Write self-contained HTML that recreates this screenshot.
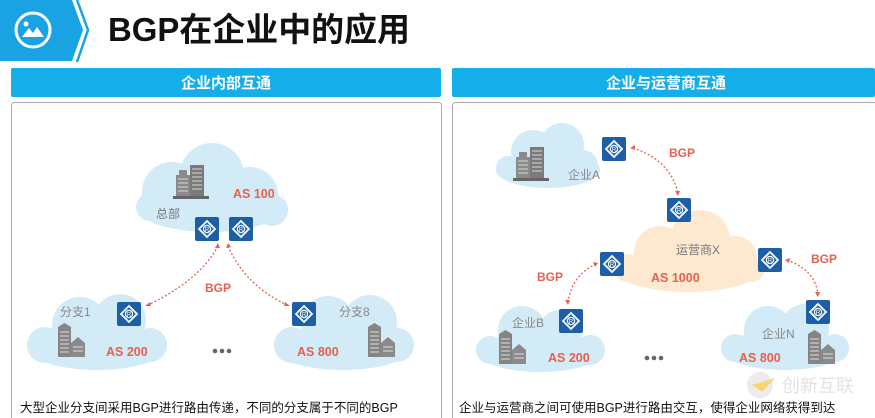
<!DOCTYPE html>
<html><head><meta charset="utf-8"><style>
body{margin:0;background:#fff;}
svg{display:block;font-family:"Liberation Sans","Noto Sans CJK SC",sans-serif;}
</style></head><body>
<svg width="875" height="418" viewBox="0 0 875 418" xmlns="http://www.w3.org/2000/svg">
<defs>
<g id="rt"><rect x="0" y="0" width="24" height="24" rx="2" fill="#1d5fa6"/><path d="M12 4 L20 12 L12 20 L4 12Z" fill="none" stroke="#fff" stroke-width="1.8"/><circle cx="12" cy="12" r="3.6" fill="none" stroke="#fff" stroke-width="1.2"/><text x="12" y="14.5" font-size="6" fill="#fff" text-anchor="middle">R</text></g>
<g id="bd1"><rect x="0" y="10" width="14" height="22" fill="#8a8a8a"/><rect x="3" y="5" width="8" height="6" fill="#8a8a8a"/><rect x="14" y="0" width="14" height="32" fill="#7a7a7a"/><rect x="-3" y="31" width="36" height="3" fill="#666"/><path d="M2 14h10M2 18h10M2 22h10M2 26h10M16 4h10M16 8h10M16 12h10M16 16h10M16 20h10M16 24h10" stroke="#d8d8d8" stroke-width="1"/></g>
<g id="bd2"><rect x="0" y="4" width="13" height="30" fill="#858585"/><path d="M0 4 L6.5 0 L13 4Z" fill="#858585"/><rect x="13" y="20" width="14" height="14" fill="#8a8a8a"/><path d="M13 20 L20 14 L27 20Z" fill="#8a8a8a"/><path d="M2 9h9M2 13h9M2 17h9M2 21h9M2 25h9M2 29h9M15 24h10M15 28h10" stroke="#ddd" stroke-width="1"/></g>
</defs>
<!-- header -->
<path d="M0 0 H72 L83 30 L72 61 H0Z" fill="#1aa3e3"/>
<path d="M77 0 L88 30 L77 62" fill="none" stroke="#1aa3e3" stroke-width="2.5"/>
<circle cx="33" cy="30" r="17" fill="none" stroke="#fff" stroke-width="3"/>
<path d="M22 37 L29 28 L33 33 L37 27 L44 37Z" fill="#fff"/><circle cx="26" cy="24" r="2.5" fill="#fff"/>
<text x="108" y="41" font-size="33" font-weight="bold" fill="#111" textLength="302" lengthAdjust="spacingAndGlyphs">BGP在企业中的应用</text>
<!-- bars -->
<rect x="11" y="68" width="430" height="29" rx="2" fill="#14aeea"/>
<rect x="452" y="68" width="423" height="29" rx="2" fill="#14aeea"/>
<text x="226" y="88" font-size="15" font-weight="bold" fill="#fff" text-anchor="middle">企业内部互通</text>
<text x="666" y="88" font-size="15" font-weight="bold" fill="#fff" text-anchor="middle">企业与运营商互通</text>
<rect x="11.5" y="102.5" width="430" height="330" rx="3" fill="none" stroke="#aaa"/>
<rect x="452.5" y="102.5" width="430" height="330" rx="3" fill="none" stroke="#aaa"/>
<!-- LEFT -->
<g fill="#d3eaf7">
<ellipse cx="210" cy="210" rx="70" ry="22"/><circle cx="172" cy="192" r="30"/><circle cx="212" cy="175" r="32"/><circle cx="250" cy="195" r="28"/><circle cx="150" cy="207" r="14"/><circle cx="272" cy="210" r="16"/>
<ellipse cx="97" cy="348" rx="68" ry="22"/><circle cx="80" cy="325" r="28"/><circle cx="120" cy="320" r="26"/><circle cx="45" cy="345" r="18"/><circle cx="150" cy="345" r="17"/>
<ellipse cx="343" cy="348" rx="68" ry="22"/><circle cx="328" cy="323" r="27"/><circle cx="370" cy="322" r="27"/><circle cx="292" cy="345" r="18"/><circle cx="397" cy="345" r="17"/>
</g>
<use href="#bd1" x="176" y="165"/>
<text x="233" y="198" font-size="12.5" font-weight="bold" fill="#e8604f">AS 100</text>
<text x="156" y="218" font-size="12" fill="#777">总部</text>
<use href="#rt" x="195" y="217"/><use href="#rt" x="229" y="217"/>
<path d="M218 246 Q200 280 148 305" fill="none" stroke="#e8604f" stroke-width="1.3" stroke-dasharray="2 2"/>
<path d="M228 246 Q245 285 287 305" fill="none" stroke="#e8604f" stroke-width="1.3" stroke-dasharray="2 2"/>
<path d="M218 243 l-3 5 l5 0Z M228 243 l-2 5 l5 -1Z M145 306 l5 -4 l1 4Z M290 306 l-5 -4 l-1 4Z" fill="#e8604f"/>
<text x="218" y="292" font-size="12" font-weight="bold" fill="#e8604f" text-anchor="middle">BGP</text>
<text x="60" y="316" font-size="12" fill="#888">分支1</text>
<use href="#rt" x="117" y="302"/>
<use href="#rt" x="292" y="302"/>
<text x="339" y="316" font-size="12" fill="#888">分支8</text>
<use href="#bd2" x="58" y="323"/><use href="#bd2" x="368" y="323"/>
<text x="106" y="356" font-size="12.5" font-weight="bold" fill="#e8604f">AS 200</text>
<text x="297" y="356" font-size="12.5" font-weight="bold" fill="#e8604f">AS 800</text>
<g fill="#666"><circle cx="215" cy="351" r="2.3"/><circle cx="222" cy="351" r="2.3"/><circle cx="229" cy="351" r="2.3"/></g>
<text x="20" y="412" font-size="12.5" fill="#111">大型企业分支间采用BGP进行路由传递，不同的分支属于不同的BGP</text>
<!-- RIGHT -->
<g fill="#d3eaf7">
<ellipse cx="548" cy="170" rx="52" ry="18"/><circle cx="533" cy="152" r="22"/><circle cx="562" cy="145" r="22"/><circle cx="583" cy="165" r="15"/><circle cx="508" cy="168" r="12"/>
<ellipse cx="540" cy="352" rx="62" ry="20"/><circle cx="522" cy="330" r="24"/><circle cx="560" cy="332" r="22"/><circle cx="490" cy="350" r="14"/><circle cx="590" cy="350" r="15"/>
<ellipse cx="785" cy="350" rx="62" ry="20"/><circle cx="768" cy="330" r="24"/><circle cx="805" cy="328" r="24"/><circle cx="735" cy="348" r="14"/><circle cx="835" cy="348" r="14"/>
</g>
<g fill="#fde9cf">
<ellipse cx="688" cy="270" rx="72" ry="22"/><circle cx="660" cy="252" r="26"/><circle cx="700" cy="240" r="30"/><circle cx="735" cy="258" r="22"/><circle cx="628" cy="268" r="14"/><circle cx="752" cy="270" r="12"/>
</g>
<use href="#bd1" x="516" y="147"/>
<text x="568" y="179" font-size="12" fill="#888">企业A</text>
<use href="#rt" x="602" y="137"/>
<path d="M633 148 Q670 160 678 193" fill="none" stroke="#e8604f" stroke-width="1.3" stroke-dasharray="2 2"/>
<path d="M630 148 l5 -3 l0 5Z M678 196 l-3 -5 l5 0Z" fill="#e8604f"/>
<text x="682" y="157" font-size="12" font-weight="bold" fill="#e8604f" text-anchor="middle">BGP</text>
<use href="#rt" x="667" y="198"/>
<text x="676" y="254" font-size="12" fill="#777">运营商X</text>
<use href="#rt" x="600" y="252"/><use href="#rt" x="758" y="248"/>
<text x="651" y="282" font-size="12.5" font-weight="bold" fill="#e8604f">AS 1000</text>
<path d="M596 264 Q572 275 568 302" fill="none" stroke="#e8604f" stroke-width="1.3" stroke-dasharray="2 2"/>
<path d="M598 263 l-5 -1 l2 5Z M568 305 l-3 -5 l5 0Z" fill="#e8604f"/>
<text x="550" y="281" font-size="12" font-weight="bold" fill="#e8604f" text-anchor="middle">BGP</text>
<path d="M787 260 Q815 270 818 294" fill="none" stroke="#e8604f" stroke-width="1.3" stroke-dasharray="2 2"/>
<path d="M785 260 l5 -2 l-1 5Z M818 297 l-3 -5 l5 0Z" fill="#e8604f"/>
<text x="824" y="263" font-size="12" font-weight="bold" fill="#e8604f" text-anchor="middle">BGP</text>
<use href="#rt" x="806" y="300"/>
<use href="#rt" x="559" y="309"/>
<text x="512" y="327" font-size="12" fill="#888">企业B</text>
<text x="762" y="338" font-size="12" fill="#888">企业N</text>
<use href="#bd2" x="499" y="330"/><use href="#bd2" x="808" y="330"/>
<text x="548" y="362" font-size="12.5" font-weight="bold" fill="#e8604f">AS 200</text>
<text x="739" y="362" font-size="12.5" font-weight="bold" fill="#e8604f">AS 800</text>
<g fill="#666"><circle cx="647" cy="358" r="2.3"/><circle cx="654" cy="358" r="2.3"/><circle cx="661" cy="358" r="2.3"/></g>
<g opacity="0.55"><circle cx="760" cy="385" r="13" fill="#ddd"/><path d="M752 385 L775 378 L762 392Z" fill="#f4b400"/><text x="782" y="392" font-size="18" fill="#ccc">创新互联</text></g>
<text x="459" y="412" font-size="12.5" fill="#111">企业与运营商之间可使用BGP进行路由交互，使得企业网络获得到达</text>
</svg>
</body></html>
